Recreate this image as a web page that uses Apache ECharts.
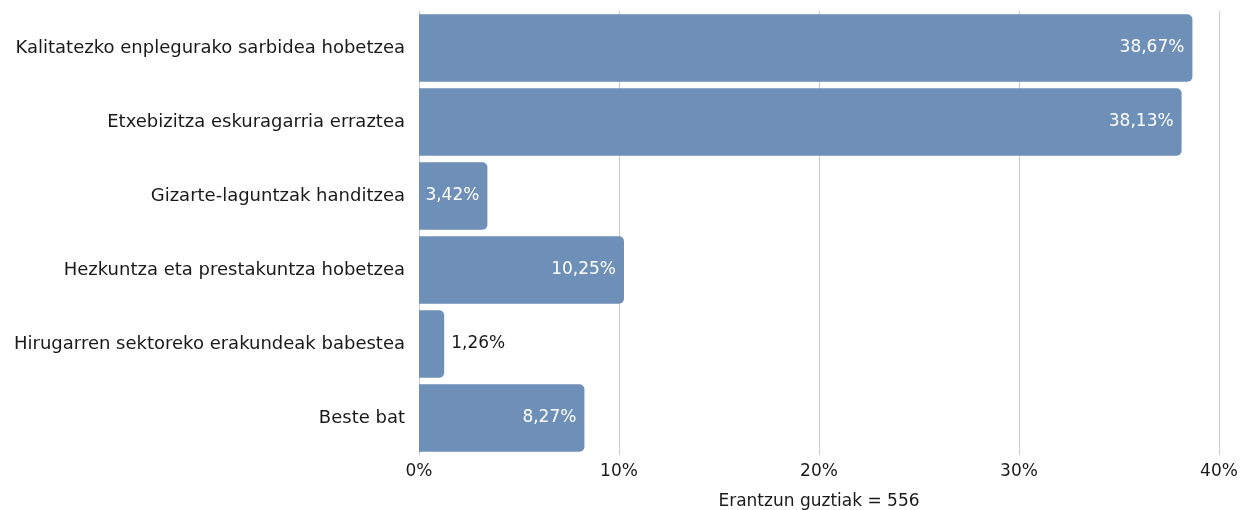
<!DOCTYPE html>
<html>
<head>
<meta charset="utf-8">
<script src="https://cdn.jsdelivr.net/npm/echarts@6/dist/echarts.min.js"></script>
<style>
html,body{margin:0;padding:0;background:#fff;}
#chart{width:1243px;height:510px;}
</style>
</head>
<body>
<div id="chart"></div>
<script>
const categories = [
  "Kalitatezko enplegurako sarbidea hobetzea",
  "Etxebizitza eskuragarria erraztea",
  "Gizarte-laguntzak handitzea",
  "Hezkuntza eta prestakuntza hobetzea",
  "Hirugarren sektoreko erakundeak babestea",
  "Beste bat"
];
const values = [38.67, 38.13, 3.42, 10.25, 1.26, 8.27];
const axisName = "Erantzun guztiak = 556";
const FONT = "'DejaVu Sans', sans-serif";

const fmt = v => v.toFixed(2).replace('.', ',') + '%';

const data = values.map(v => {
  const small = v < 2;
  return {
    value: v,
    label: small
      ? { position: 'right', color: '#1a1a1a', distance: 7 }
      : { position: 'insideRight', color: '#ffffff', distance: 8 }
  };
});

const chart = echarts.init(document.getElementById('chart'));
chart.setOption({
  animation: false,
  grid: { left: 419, right: 24, top: 11, bottom: 55, containLabel: false, outerBoundsMode: 'none' },
  xAxis: {
    type: 'value', min: 0, max: 40, interval: 10,
    name: axisName, nameLocation: 'middle', nameGap: 38,
    nameTextStyle: { fontFamily: FONT, fontSize: 17, color: '#1a1a1a' },
    axisLabel: { formatter: v => v + '%', fontFamily: FONT, fontSize: 17, color: '#1a1a1a', margin: 8 },
    axisLine: { show: false }, axisTick: { show: false },
    splitLine: { show: true, lineStyle: { color: '#cccccc', width: 1 } }
  },
  yAxis: {
    type: 'category', data: categories, inverse: true,
    axisLine: { show: true, lineStyle: { color: '#cccccc' } },
    axisTick: { show: false },
    axisLabel: { fontFamily: FONT, fontSize: 18, color: '#1a1a1a', margin: 14 }
  },
  series: [{
    type: 'bar', data: data, barCategoryGap: '9%',
    itemStyle: { color: '#6d8fb8', borderRadius: [0, 5, 5, 0] },
    label: { show: true, formatter: p => fmt(p.value), fontFamily: FONT, fontSize: 17 }
  }]
});
</script>
</body>
</html>
